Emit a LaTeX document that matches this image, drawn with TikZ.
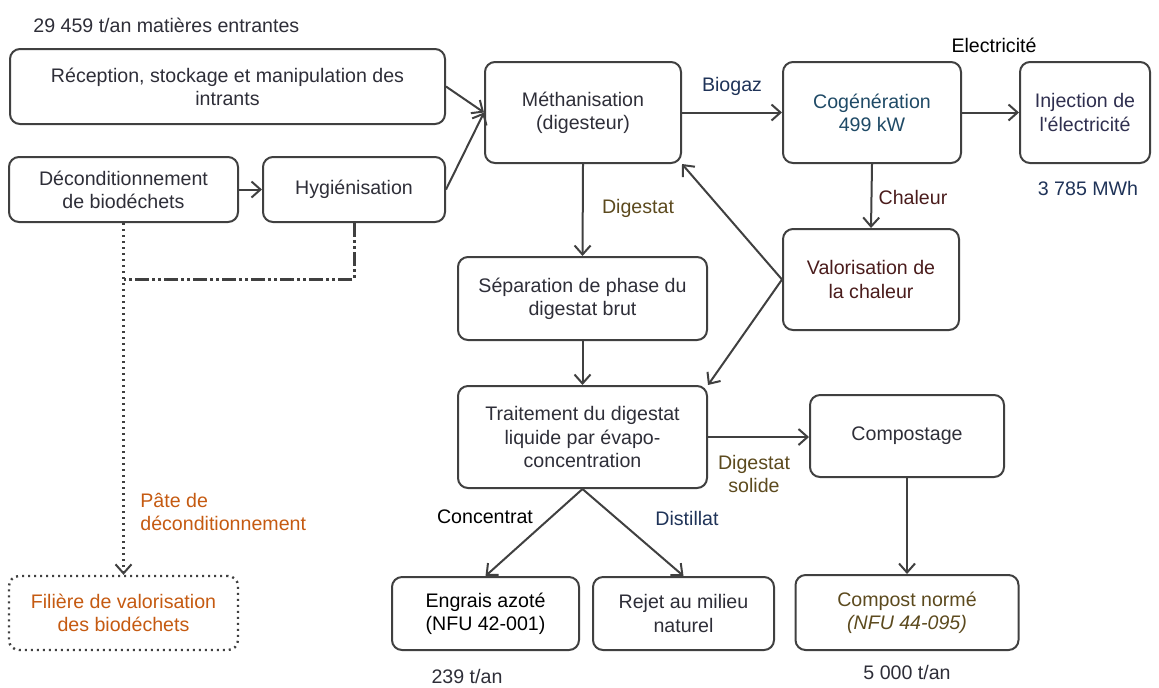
\documentclass[tikz,border=0pt]{standalone}
\usepackage{fontspec}
\setmainfont{Liberation Sans}[Ligatures=TeXOff]
\usetikzlibrary{arrows.meta}
\definecolor{ln}{HTML}{404040}
\definecolor{txt}{HTML}{2E2E38}
\definecolor{cogc}{HTML}{1F4A66}
\definecolor{bluec}{HTML}{1F3358}
\definecolor{brownc}{HTML}{5C4A1E}
\definecolor{maroonc}{HTML}{4A1C1C}
\definecolor{orangec}{HTML}{C55A11}
\definecolor{injc}{HTML}{2F2F4F}
\newcommand\fsz{\fontsize{9.8}{11.6}\selectfont}
\begin{document}
\begin{tikzpicture}[x=0.5pt,y=-0.5pt,
  box/.style={draw=ln, line width=1pt, rounded corners=5pt, align=center, inner sep=2pt, font=\fsz, text=txt},
  arr/.style={draw=ln, line width=1pt, -{Straight Barb[length=4.5pt,width=8pt,line width=1pt]}},
  lab/.style={font=\fsz, inner sep=0pt, text=txt, align=center}]
\useasboundingbox (0,0) rectangle (1159,687);
% nodes
\node[box, minimum width=217.5pt, minimum height=37.5pt] (rec) at (227.5,86.5) {Réception, stockage et manipulation des\\intrants};
\node[box, minimum width=114.5pt, minimum height=32.5pt] (dec) at (123.5,189.5) {Déconditionnement\\de biodéchets};
\node[box, minimum width=91pt, minimum height=32.5pt] (hyg) at (354,189.5) {Hygiénisation};
\node[box, minimum width=98pt, minimum height=50.5pt] (met) at (583,112.5) {Méthanisation\\(digesteur)};
\node[box, minimum width=89pt, minimum height=50.5pt, text=cogc] (cog) at (872,112.5) {Cogénération\\499 kW};
\node[box, minimum width=65pt, minimum height=50.5pt, text=injc] (inj) at (1085,112.5) {Injection de\\l'électricité};
\node[box, minimum width=88pt, minimum height=50.5pt, text=maroonc] (val) at (871,279.5) {Valorisation de\\la chaleur};
\node[box, minimum width=124.5pt, minimum height=41.5pt] (sep) at (582.5,298.5) {Séparation de phase du\\digestat brut};
\node[box, minimum width=124.5pt, minimum height=51pt] (tra) at (582.5,437) {Traitement du digestat\\liquide par évapo-\\concentration};
\node[box, minimum width=97pt, minimum height=41pt] (com) at (907,436) {Compostage};
\node[box, minimum width=93.5pt, minimum height=36.5pt, text=black] (eng) at (485.5,613.5) {Engrais azoté\\(NFU 42-001)};
\node[box, minimum width=90.5pt, minimum height=36.5pt] (rej) at (683.5,613.5) {Rejet au milieu\\naturel};
\node[box, minimum width=111.5pt, minimum height=37.5pt, text=brownc] (cpn) at (907,612.5) {Compost normé\\\textit{(NFU 44-095)}};
\node[box, dotted, minimum width=114.5pt, minimum height=37pt, text=orangec, line width=1.2pt] (fil) at (123.5,613) {Filière de valorisation\\des biodéchets};
% labels
\node[lab, anchor=west] (lin) at (33,25) {29 459 t/an matières entrantes};
\node[lab, text=bluec] (lbio) at (732,86) {Biogaz};
\node[lab, text=black] (lele) at (994,45) {Electricité};
\node[lab, text=bluec] (lmwh) at (1088,188) {3 785 MWh};
\node[lab, text=maroonc] (lcha) at (913,197) {Chaleur};
\node[lab, text=brownc] (ldig) at (638,208) {Digestat};
\node[lab, text=brownc] (ldso) at (754,474) {Digestat\\solide};
\node[lab, text=black] (lcon) at (485,517) {Concentrat};
\node[lab, text=bluec] (ldis) at (687,518) {Distillat};
\node[lab] (l239) at (467,676) {239 t/an};
\node[lab] (l5000) at (907,672) {5 000 t/an};
\node[lab, text=orangec, align=left, anchor=west] (lpat) at (140,512) {Pâte de\\déconditionnement};
% connectors
\draw[arr] (rec.east) -- (met.west);
\draw[arr] (hyg.east) -- (met.west);
\draw[arr] (dec.east) -- (hyg.west);
\draw[arr] (met.east) -- (cog.west);
\draw[arr] (cog.east) -- (inj.west);
\draw[arr] (cog.south) -- (val.north);
\draw[arr] (met.south) -- (sep.north);
\draw[arr] (val.west) -- (met.south east);
\draw[arr] (val.west) -- (tra.north east);
\draw[arr] (sep.south) -- (tra.north);
\draw[arr] (tra.east) -- (tra.east -| com.west);
\draw[arr] (tra.south) -- (eng.north);
\draw[arr] (tra.south) -- (rej.north);
\draw[arr] (com.south) -- (cpn.north);
\draw[arr, dotted, line width=1.3pt] (dec.south) -- (fil.north);
\coordinate (j1) at (354,279);
\draw[draw=ln, line width=1.5pt, dash pattern=on 7pt off 1.5pt on 1.5pt off 1.5pt on 1.5pt off 1.5pt] (hyg.south) -- (hyg.south |- j1) -- (dec.south |- j1);
\end{tikzpicture}
\end{document}
